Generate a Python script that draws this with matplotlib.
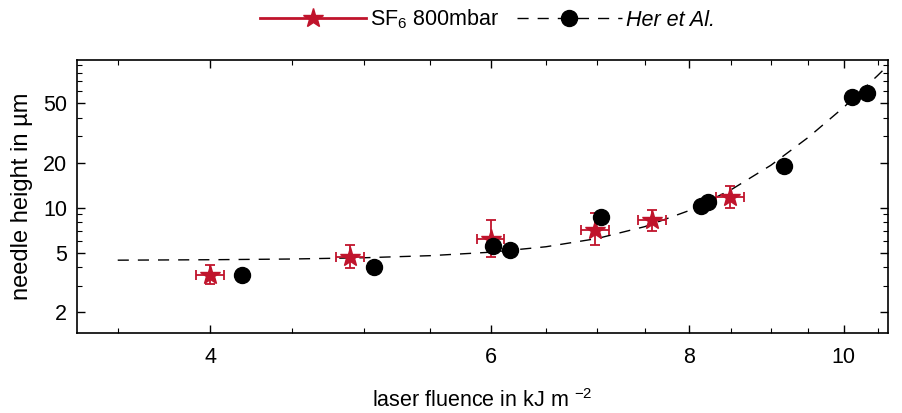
import numpy as np
import matplotlib
matplotlib.use("Agg")
import matplotlib.pyplot as plt
from matplotlib.ticker import FixedLocator, FixedFormatter, LogLocator, NullFormatter

plt.rcParams["font.family"] = ["Liberation Sans", "DejaVu Sans"]
plt.rcParams["mathtext.fontset"] = "custom"
plt.rcParams["mathtext.rm"] = "Liberation Sans"
plt.rcParams["mathtext.it"] = "Liberation Sans:italic"

# SF6 800 mbar measurements
sf6_fluence = [4.0, 4.90, 6.0, 6.98, 7.58, 8.48]
sf6_fluence_err = [0.08, 0.10, 0.12, 0.14, 0.15, 0.17]
sf6_height = [3.55, 4.64, 6.19, 7.12, 8.31, 11.8]
sf6_height_lo = [3.1, 3.94, 4.64, 5.65, 6.93, 10.0]
sf6_height_hi = [4.1, 5.65, 8.22, 9.2, 9.6, 13.9]

# literature data
her_fluence = [4.19, 5.07, 6.02, 6.17, 7.04, 8.14, 8.22, 9.17, 10.12, 10.34]
her_height = [3.55, 4.0, 5.5, 5.17, 8.7, 10.2, 10.9, 18.9, 55.0, 58.0]

# fitted trend curve
fit_fluence = [3.5, 4.0, 4.5, 5.0, 5.5, 6.0, 6.5, 7.0, 7.5, 8.0, 8.5, 9.0, 9.5, 10.0, 10.5, 10.7]
fit_height = [4.45, 4.48, 4.53, 4.62, 4.77, 5.03, 5.47, 6.21, 7.46, 9.57, 13.2, 19.2, 29.5, 46.9, 76.3, 93.0]

red = "#c0142c"
dash = (0, (8, 6.5))

fig, ax = plt.subplots(figsize=(9.02, 4.13), dpi=100)
fig.subplots_adjust(left=0.0854, right=0.9845, top=0.8547, bottom=0.1937)

ax.plot(fit_fluence, fit_height, color="black", ls=dash, lw=1.0, zorder=2)

yerr = [np.subtract(sf6_height, sf6_height_lo), np.subtract(sf6_height_hi, sf6_height)]
ax.errorbar(sf6_fluence, sf6_height, xerr=sf6_fluence_err, yerr=yerr,
            fmt="*", color=red, ms=15, elinewidth=1.3, capsize=3.5, capthick=1.3, zorder=3)
ax.plot(her_fluence, her_height, "o", color="black", ms=11.5, zorder=4)

ax.set_xscale("log")
ax.set_yscale("log")
ax.set_xlim(3.30, 10.66)
ax.set_ylim(1.45, 97)

ax.xaxis.set_major_locator(FixedLocator([4, 6, 8, 10]))
ax.xaxis.set_major_formatter(FixedFormatter(["4", "6", "8", "10"]))
ax.xaxis.set_minor_locator(FixedLocator([3.5, 4.5, 5, 5.5, 6.5, 7, 7.5, 8.5, 9, 9.5, 10.5]))
ax.xaxis.set_minor_formatter(NullFormatter())

ax.yaxis.set_major_locator(FixedLocator([2, 5, 10, 20, 50]))
ax.yaxis.set_major_formatter(FixedFormatter(["2", "5", "10", "20", "50"]))
ax.yaxis.set_minor_locator(LogLocator(base=10, subs=np.arange(1, 10)))
ax.yaxis.set_minor_formatter(NullFormatter())

ax.tick_params(which="both", direction="in", top=True, right=True, labelsize=15.5)
ax.tick_params(which="major", length=6, width=1)
ax.tick_params(which="minor", length=3.5, width=0.8)
ax.tick_params(axis="x", which="major", pad=10)
ax.tick_params(axis="y", which="major", pad=7)
for s in ax.spines.values():
    s.set_linewidth(1.2)

ax.set_xlabel(r"laser fluence in kJ m $^{-2}$", fontsize=15.5, labelpad=15)
ax.set_ylabel("needle height in µm", fontsize=17, labelpad=7)

h1, = ax.plot([], [], color=red, marker="*", ms=15, lw=2)
h2, = ax.plot([], [], color="black", ls=dash, lw=1.0, marker="o", ms=11.5)
leg = fig.legend([h1, h2], ["SF$_6$ 800mbar", "Her et Al."], loc="upper center",
                 bbox_to_anchor=(0.541, 1.028), ncol=2, frameon=False, fontsize=15.5,
                 handlelength=4.9, columnspacing=0.8, handletextpad=0.2)
leg.get_texts()[1].set_style("italic")

fig.savefig("out.png", dpi=100)
